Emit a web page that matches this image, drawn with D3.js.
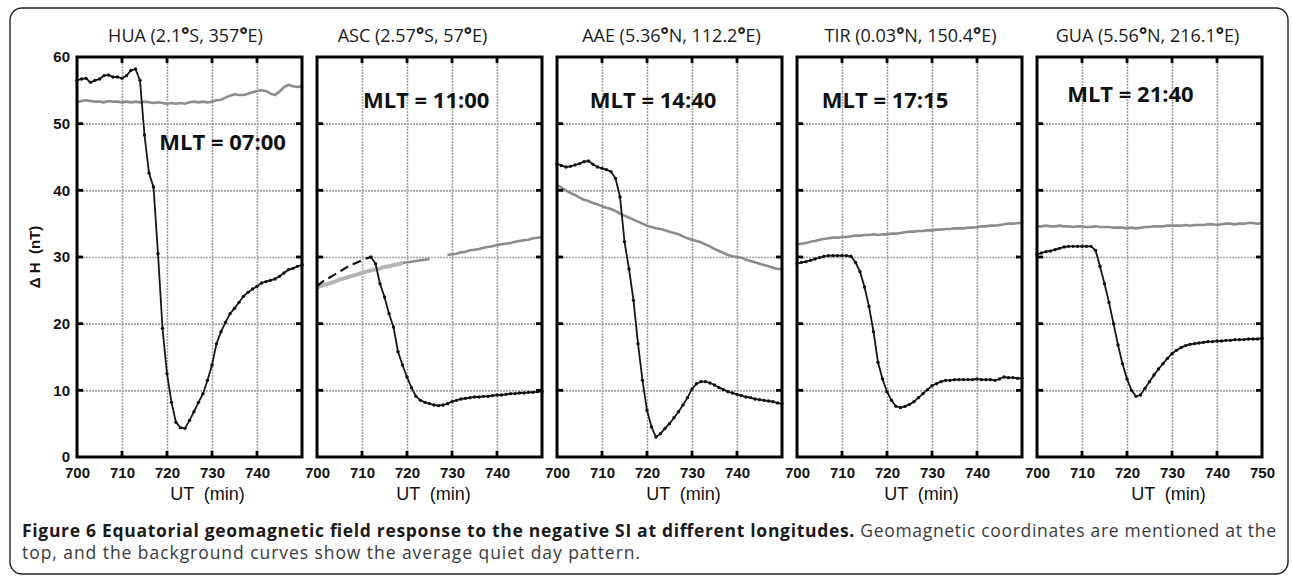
<!DOCTYPE html>
<html>
<head>
<meta charset="utf-8">
<script src="https://cdn.jsdelivr.net/npm/d3@7"></script>
<style>
  body { margin: 0; background: #fff; }
  svg { display: block; }
</style>
</head>
<body>
<svg id="chart" width="1293" height="576"></svg>
<script>
// ---- data ----
const stations = ["HUA", "ASC", "AAE", "TIR", "GUA"];
const titles = ["HUA (2.1°S, 357°E)", "ASC (2.57°S, 57°E)", "AAE (5.36°N, 112.2°E)", "TIR (0.03°N, 150.4°E)", "GUA (5.56°N, 216.1°E)"];
const mltLabels = ["MLT = 07:00", "MLT = 11:00", "MLT = 14:40", "MLT = 17:15", "MLT = 21:40"];
const startMinute = 700;
const yTicks = [0, 10, 20, 30, 40, 50, 60];
const xTicks = [700, 710, 720, 730, 740];
const xTicksLast = [700, 710, 720, 730, 740, 750];
const gridX = [710, 720, 730, 740];
const gridY = [10, 20, 30, 40, 50];

// storm-time ΔH (black, 1-min samples from 700 UT min)
const huaDH = [56.5,56.7,56.8,56.2,56.5,56.7,57.2,57.3,57.0,57.0,56.8,57.2,58.0,58.2,56.5,48.3,42.6,40.5,30.5,19.3,12.5,8.2,5.2,4.4,4.3,5.5,6.8,8.2,9.5,11.5,13.8,17.0,18.8,20.2,21.5,22.3,23.2,24.1,24.7,25.2,25.6,26.1,26.3,26.5,26.7,27.1,27.6,28.1,28.3,28.6,28.8];
const ascDH = [25.6,26.2,26.6,27.0,27.4,27.8,28.2,28.6,28.9,29.2,29.5,29.8,30.0,29.0,26.0,24.0,21.5,19.5,15.8,13.8,12.0,10.4,9.1,8.5,8.2,8.0,7.8,7.7,7.8,8.0,8.3,8.5,8.7,8.8,8.9,9.0,9.0,9.1,9.1,9.2,9.3,9.3,9.4,9.5,9.5,9.6,9.6,9.7,9.7,9.8,9.8];
const aaeDH = [44.0,43.7,43.5,43.6,43.8,44.0,44.3,44.4,43.9,43.5,43.3,43.1,42.8,41.8,39.0,32.3,28.2,23.5,17.0,11.5,7.0,4.5,3.0,3.5,4.3,5.0,5.9,6.8,7.8,8.9,10.2,11.0,11.3,11.3,11.1,10.8,10.4,10.1,9.8,9.6,9.4,9.2,9.0,8.9,8.7,8.6,8.5,8.4,8.3,8.1,8.0];
const tirDH = [29.0,29.2,29.3,29.5,29.7,29.9,30.1,30.2,30.2,30.2,30.2,30.2,30.1,29.2,27.8,25.5,22.6,18.8,14.2,11.7,9.8,8.5,7.6,7.4,7.6,7.9,8.3,8.9,9.5,10.1,10.7,11.0,11.3,11.5,11.5,11.6,11.6,11.6,11.6,11.6,11.7,11.6,11.6,11.6,11.5,11.7,12.0,11.9,11.9,11.8,11.8];
const guaDH = [30.4,30.6,30.8,30.9,31.1,31.3,31.5,31.6,31.6,31.6,31.6,31.6,31.6,31.0,28.6,26.0,23.2,20.0,16.8,14.0,11.7,10.0,9.1,9.3,10.3,11.3,12.3,13.2,14.0,14.8,15.5,16.0,16.4,16.7,16.9,17.0,17.1,17.2,17.3,17.3,17.4,17.4,17.5,17.5,17.6,17.6,17.6,17.7,17.7,17.7,17.8];

// average quiet-day pattern (grey)
const huaQuiet = [53.2,53.4,53.5,53.4,53.3,53.3,53.2,53.4,53.3,53.3,53.2,53.3,53.2,53.3,53.2,53.3,53.2,53.1,53.2,53.1,53.0,53.1,53.0,53.1,53.0,53.2,53.3,53.2,53.3,53.2,53.3,53.5,53.6,53.9,54.2,54.4,54.3,54.3,54.5,54.7,54.9,55.0,54.9,54.5,54.3,54.8,55.5,55.8,55.6,55.5,55.6];
const ascQuiet = [25.4,25.7,25.9,26.1,26.3,26.6,26.8,27.0,27.2,27.4,27.6,27.8,28.0,28.1,28.3,28.5,28.6,28.8,28.9,29.1,29.2,29.3,29.4,29.5,29.6,29.7,null,null,null,30.3,30.4,30.5,30.7,30.8,31.0,31.1,31.2,31.4,31.5,31.6,31.8,31.9,32.0,32.1,32.3,32.4,32.5,32.6,32.8,32.9,33.0];
const aaeQuiet = [40.8,40.4,40.0,39.6,39.3,38.9,38.6,38.4,38.1,37.9,37.6,37.4,37.2,36.9,36.5,36.2,35.9,35.6,35.3,35.0,34.7,34.5,34.3,34.2,34.0,33.8,33.6,33.4,33.1,32.8,32.6,32.4,32.2,31.9,31.6,31.2,30.9,30.6,30.3,30.1,30.0,29.9,29.6,29.4,29.2,29.0,28.8,28.6,28.4,28.2,28.2];
const tirQuiet = [31.9,32.0,32.1,32.3,32.4,32.6,32.7,32.8,32.9,32.9,33.0,33.0,33.1,33.2,33.2,33.3,33.3,33.4,33.3,33.4,33.4,33.5,33.5,33.6,33.7,33.8,33.8,33.9,33.9,34.0,34.0,34.1,34.1,34.2,34.2,34.3,34.3,34.3,34.4,34.4,34.5,34.6,34.6,34.7,34.7,34.8,34.9,35.0,35.0,35.1,35.1];
const guaQuiet = [34.6,34.6,34.7,34.6,34.6,34.7,34.6,34.6,34.5,34.6,34.6,34.5,34.5,34.6,34.5,34.5,34.5,34.4,34.4,34.4,34.3,34.4,34.3,34.4,34.5,34.5,34.6,34.6,34.6,34.7,34.7,34.7,34.7,34.8,34.7,34.8,34.8,34.8,34.9,34.9,34.8,34.9,35.0,35.0,34.9,35.0,35.0,35.1,35.1,35.0,35.1];

const stormSeries = [huaDH, ascDH, aaeDH, tirDH, guaDH];
const quietSeries = [huaQuiet, ascQuiet, aaeQuiet, tirQuiet, guaQuiet];

// ---- layout ----
const panelLeft = 77, panelStep = 240, panelW = 225;
const plotTop = 57, plotBottom = 457;
const mltAnchor = [[718.3, 46.0], [710.2, 52.3], [707.3, 52.3], [705.5, 52.4], [706.7, 53.3]];
const titleShift = [-4, -17, 2, 1, -2];
const utShift = [18, 4, 14, 12, 19];
const ascDashedUntil = 12;   // ASC storm trace dashed before this sample
const ascLightUntil = 19;    // ASC quiet trace drawn light up to this sample

const svg = d3.select("#chart");

svg.append("rect")
  .attr("x", 10).attr("y", 8).attr("width", 1278).attr("height", 566)
  .attr("rx", 12)
  .attr("fill", "none").attr("stroke", "#222").attr("stroke-width", 1.4);

const y = d3.scaleLinear().domain([0, 60]).range([plotBottom, plotTop]);

stations.forEach((name, i) => {
  const x0 = panelLeft + i * panelStep;
  const x = d3.scaleLinear().domain([700, 750]).range([x0, x0 + panelW]);
  const g = svg.append("g").attr("class", "panel-" + name);

  // dotted grid
  const gridColor = "#a2a2a2";
  g.selectAll("line.gx").data(gridX).join("line").attr("class", "gx")
    .attr("x1", d => x(d) + 0.5).attr("x2", d => x(d) + 0.5)
    .attr("y1", plotTop).attr("y2", plotBottom)
    .attr("stroke", gridColor).attr("stroke-width", 1.6).attr("stroke-dasharray", "2,1");
  g.selectAll("line.gy").data(gridY).join("line").attr("class", "gy")
    .attr("x1", x0).attr("x2", x0 + panelW)
    .attr("y1", d => y(d) + 0.5).attr("y2", d => y(d) + 0.5)
    .attr("stroke", gridColor).attr("stroke-width", 1.6).attr("stroke-dasharray", "2,1");

  const storm = stormSeries[i].map((v, k) => ({ t: startMinute + k, v, k }));
  const quiet = quietSeries[i].map((v, k) => ({ t: startMinute + k, v, k }));

  const line = d3.line().defined(d => d.v != null).x(d => x(d.t)).y(d => y(d.v));

  // quiet-day curve
  if (name === "ASC") {
    g.append("path").attr("d", line(quiet.filter(d => d.k <= ascLightUntil)))
      .attr("fill", "none").attr("stroke", "#b4b4b4").attr("stroke-width", 4);
    g.append("path").attr("d", line(quiet.filter(d => d.k >= ascLightUntil)))
      .attr("fill", "none").attr("stroke", "#8c8c8c").attr("stroke-width", 2.6);
  } else {
    g.append("path").attr("d", line(quiet))
      .attr("fill", "none").attr("stroke", "#8c8c8c").attr("stroke-width", 2.6);
  }

  // storm-time curve with sample markers
  let dotted = storm;
  if (name === "ASC") {
    g.append("path").attr("d", line(storm.filter(d => d.k <= ascDashedUntil)))
      .attr("fill", "none").attr("stroke", "#161616").attr("stroke-width", 2.2)
      .attr("stroke-dasharray", "9,5");
    dotted = storm.filter(d => d.k >= ascDashedUntil);
  }
  g.append("path").attr("d", line(dotted))
    .attr("fill", "none").attr("stroke", "#161616").attr("stroke-width", 1.8);
  g.selectAll("circle.dot").data(dotted).join("circle").attr("class", "dot")
    .attr("cx", d => x(d.t)).attr("cy", d => y(d.v)).attr("r", 1.7)
    .attr("fill", "#111");

  // frame
  g.append("rect")
    .attr("x", x0).attr("y", plotTop).attr("width", panelW).attr("height", plotBottom - plotTop)
    .attr("fill", "none").attr("stroke", "#000").attr("stroke-width", 3);

  // inward tick marks on all sides
  const tk = 6;
  const tickW = 2.8;
  g.selectAll("line.tb").data(gridX).join("line").attr("class", "tb")
    .attr("x1", d => x(d)).attr("x2", d => x(d)).attr("y1", plotBottom).attr("y2", plotBottom - tk)
    .attr("stroke", "#000").attr("stroke-width", tickW);
  g.selectAll("line.tt").data(gridX).join("line").attr("class", "tt")
    .attr("x1", d => x(d)).attr("x2", d => x(d)).attr("y1", plotTop).attr("y2", plotTop + tk)
    .attr("stroke", "#000").attr("stroke-width", tickW);
  g.selectAll("line.tl").data(gridY).join("line").attr("class", "tl")
    .attr("x1", x0).attr("x2", x0 + tk).attr("y1", d => y(d)).attr("y2", d => y(d))
    .attr("stroke", "#000").attr("stroke-width", tickW);
  g.selectAll("line.tr").data(gridY).join("line").attr("class", "tr")
    .attr("x1", x0 + panelW).attr("x2", x0 + panelW - tk).attr("y1", d => y(d)).attr("y2", d => y(d))
    .attr("stroke", "#000").attr("stroke-width", tickW);

  // x axis labels
  const xAxis = g.append("g").attr("transform", `translate(0,${plotBottom})`)
    .call(d3.axisBottom(x).tickValues(i === stations.length - 1 ? xTicksLast : xTicks)
      .tickSize(0).tickPadding(10).tickFormat(d3.format("d")));
  xAxis.select(".domain").remove();
  xAxis.selectAll("text")
    .attr("font-family", "Liberation Sans, Arial, sans-serif")
    .attr("font-size", 15).attr("font-weight", "bold").attr("fill", "#111");

  // y axis labels (first panel only)
  if (i === 0) {
    const yAxis = g.append("g").attr("transform", `translate(${x0},0)`)
      .call(d3.axisLeft(y).tickValues(yTicks).tickSize(0).tickPadding(7));
    yAxis.select(".domain").remove();
    yAxis.selectAll("text")
      .attr("font-family", "Liberation Sans, Arial, sans-serif")
      .attr("font-size", 15).attr("font-weight", "bold").attr("fill", "#111");
  }

  // x axis title
  g.append("text")
    .attr("x", x0 + panelW / 2 + utShift[i]).attr("y", 500)
    .attr("text-anchor", "middle")
    .attr("font-family", "Liberation Sans, Arial, sans-serif")
    .attr("font-size", 18).attr("fill", "#111")
    .style("white-space", "pre")
    .text("UT  (min)");

  // station title with degree marks
  const title = g.append("text")
    .attr("x", x0 + panelW / 2 + titleShift[i]).attr("y", 42)
    .attr("text-anchor", "middle")
    .attr("font-family", "Open Sans, sans-serif")
    .attr("font-size", 18).attr("fill", "#1a1a1a");
  titles[i].split("°").forEach((part, p) => {
    if (p > 0) title.append("tspan").attr("font-size", 19).attr("font-weight", "bold").text("°");
    title.append("tspan").attr("font-size", 18).attr("font-weight", 500).text(part);
  });

  // MLT annotation
  g.append("text")
    .attr("x", x(mltAnchor[i][0])).attr("y", y(mltAnchor[i][1]))
    .attr("font-family", "Open Sans, sans-serif")
    .attr("font-size", 22).attr("font-weight", "bold").attr("fill", "#111")
    .text(mltLabels[i]);
});

// y axis title
svg.append("text")
  .attr("transform", "translate(40,257) rotate(-90)")
  .attr("text-anchor", "middle")
  .attr("font-family", "Liberation Sans, Arial, sans-serif")
  .attr("font-size", 15).attr("font-weight", "bold").attr("fill", "#111")
  .style("white-space", "pre")
  .text("Δ H  (nT)");

// caption
const cap1 = svg.append("text")
  .attr("x", 22).attr("y", 537)
  .attr("font-family", "Open Sans, sans-serif").attr("font-size", 17.5)
  .attr("textLength", 1254).attr("lengthAdjust", "spacing");
cap1.append("tspan").attr("font-weight", "bold").attr("fill", "#1a1a1a")
  .text("Figure 6 Equatorial geomagnetic field response to the negative SI at different longitudes.");
cap1.append("tspan").attr("fill", "#3a3a3a")
  .text(" Geomagnetic coordinates are mentioned at the");

svg.append("text")
  .attr("x", 22).attr("y", 559)
  .attr("font-family", "Open Sans, sans-serif").attr("font-size", 17.5).attr("fill", "#3a3a3a")
  .attr("textLength", 618).attr("lengthAdjust", "spacing")
  .text("top, and the background curves show the average quiet day pattern.");
</script>
</body>
</html>
